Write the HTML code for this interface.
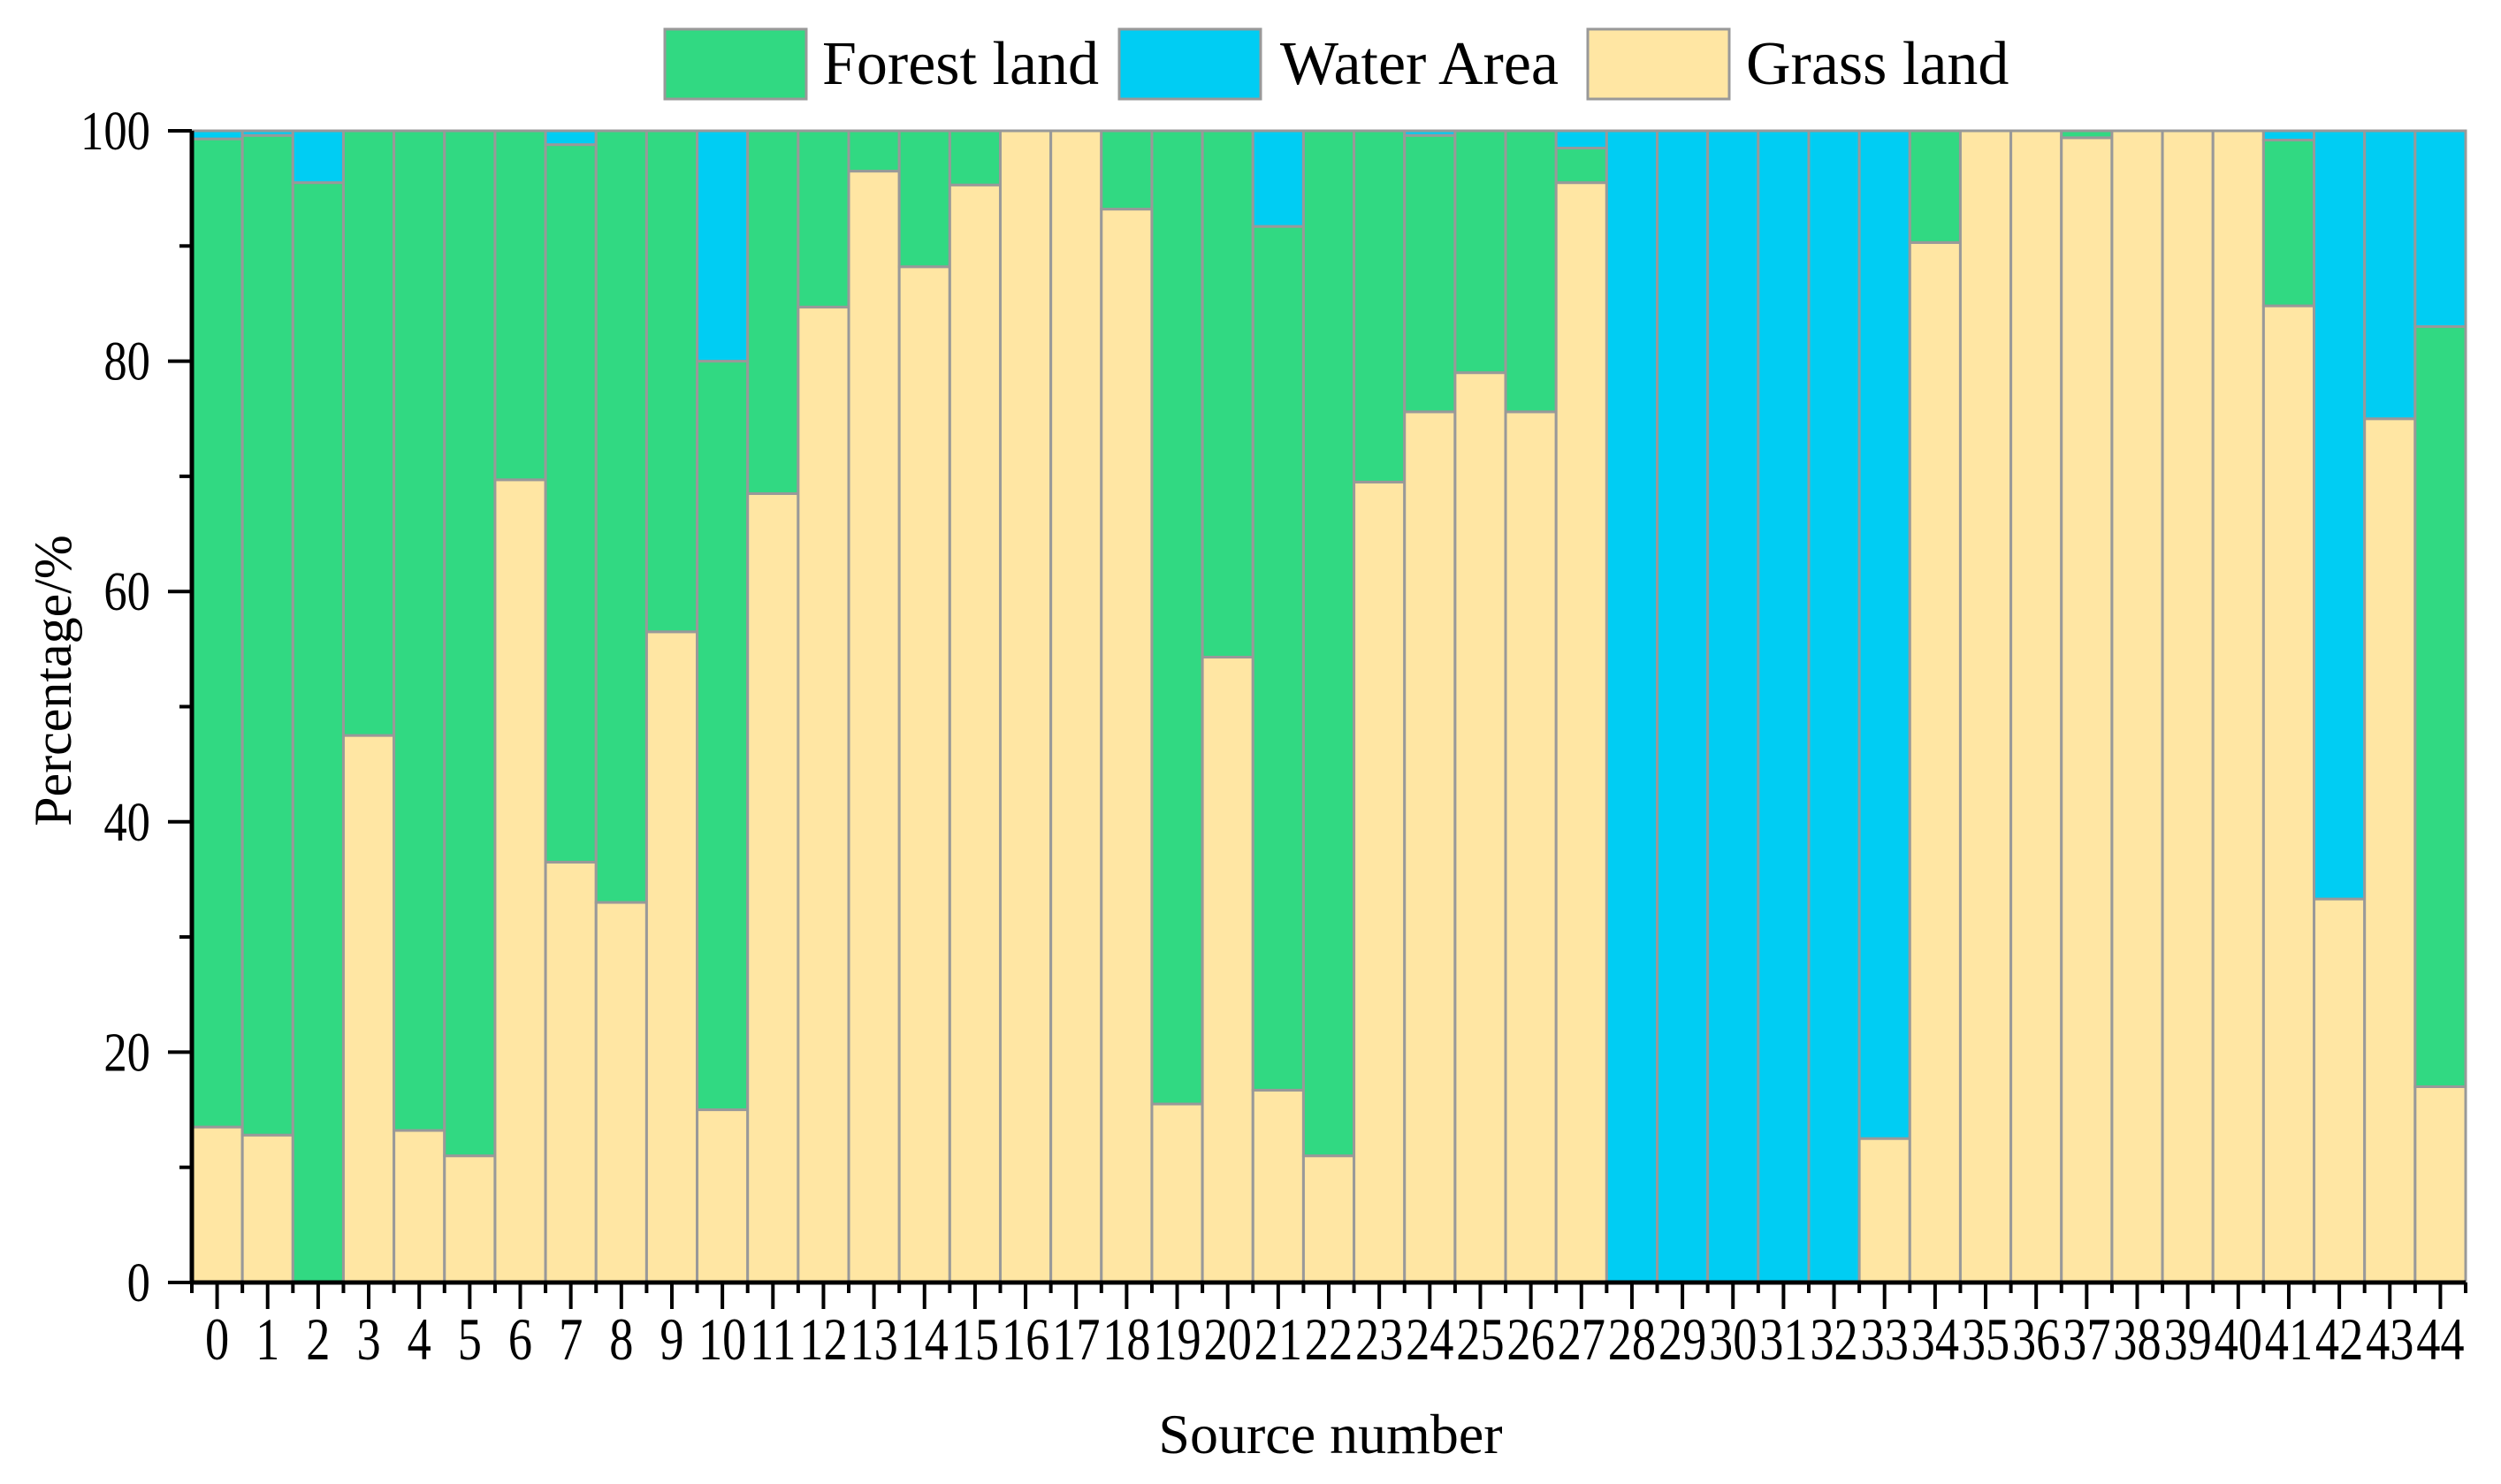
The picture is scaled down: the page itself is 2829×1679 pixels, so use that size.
<!DOCTYPE html>
<html><head><meta charset="utf-8"><style>
body{margin:0;background:#fff}
svg{display:block;font-family:"Liberation Serif",serif}
</style></head><body>
<svg id="chart" width="2829" height="1679" viewBox="0 0 2829 1679" xmlns="http://www.w3.org/2000/svg">
<g id="bars"></g>
<g id="axes"></g>
<g>
 <g><rect x="752" y="33" width="160" height="79" fill="#31d982" stroke="#999" stroke-width="3"/><text x="930" y="95" font-size="70">Forest land</text></g>
 <g><rect x="1266" y="33" width="160" height="79" fill="#00cdf3" stroke="#999" stroke-width="3"/><text x="1448" y="95" font-size="70">Water Area</text></g>
 <g><rect x="1796" y="33" width="160" height="79" fill="#ffe6a3" stroke="#999" stroke-width="3"/><text x="1975" y="95" font-size="70">Grass land</text></g>
</g>
<text transform="translate(80,770) rotate(-90)" text-anchor="middle" font-size="60">Percentage/%</text>
<text x="1505" y="1644" text-anchor="middle" font-size="64">Source number</text>
</svg>
<script>
const categories=["0","1","2","3","4","5","6","7","8","9","10","11","12","13","14","15","16","17","18","19","20","21","22","23","24","25","26","27","28","29","30","31","32","33","34","35","36","37","38","39","40","41","42","43","44"];
const grass=[13.5,12.8,0,47.5,13.2,11,69.7,36.5,33,56.5,15,68.5,84.7,96.5,88.2,95.3,100,100,93.2,15.5,54.3,16.7,11,69.5,75.6,79,75.6,95.5,0,0,0,0,0,12.5,90.3,100,100,99.4,100,100,100,84.8,33.3,75,17];
const forest=[85.8,86.8,95.5,52.5,86.8,89,30.3,62.3,67,43.5,65,31.5,15.3,3.5,11.8,4.7,0,0,6.8,84.5,45.7,75,89,30.5,24,21,24.4,3,0,0,0,0,0,0,9.7,0,0,0.6,0,0,0,14.4,0,0,66];
const water=[0.7,0.4,4.5,0,0,0,0,1.2,0,0,20,0,0,0,0,0,0,0,0,0,0,8.3,0,0,0.4,0,0,1.5,100,100,100,100,100,87.5,0,0,0,0,0,0,0,0.8,66.7,25,17];
const yTicks=[0,20,40,60,80,100];
const X0=217,X1=2789,Y0=1451,Y1=148;
const bw=(X1-X0)/categories.length;
const xs=i=>X0+i*bw;
const ys=v=>Y0-(v/100)*(Y0-Y1);
const NS="http://www.w3.org/2000/svg";
function mk(tag,attrs,parent){const e=document.createElementNS(NS,tag);for(const k in attrs)e.setAttribute(k,attrs[k]);parent.appendChild(e);return e;}
const bars=document.getElementById('bars'),axes=document.getElementById('axes');
const series=[[grass,'#ffe6a3','grass'],[forest,'#31d982','forest'],[water,'#00cdf3','water']];
categories.forEach((c,i)=>{
  let base=0;
  series.forEach(([arr,col,nm])=>{
    const v=arr[i];
    if(v>0){
      const r=mk('rect',{x:xs(i),y:ys(base+v),width:bw,height:ys(base)-ys(base+v),fill:col,stroke:'#999','stroke-width':3},bars);
      
      
    }
    base+=v;
  });
  const t=mk('text',{x:0,y:0,'font-size':68,'text-anchor':'middle',transform:`translate(${xs(i)+bw/2},1538) scale(0.8,1)`},axes);
  t.textContent=c;
  
  
  mk('line',{x1:xs(i)+bw/2,x2:xs(i)+bw/2,y1:Y0,y2:1481,stroke:'#000','stroke-width':4},axes);
  mk('line',{x1:xs(i),x2:xs(i),y1:Y0,y2:1463,stroke:'#000','stroke-width':4},axes);
});
mk('line',{x1:X1,x2:X1,y1:Y0,y2:1463,stroke:'#000','stroke-width':4},axes);
yTicks.forEach(v=>{
  mk('line',{x1:X0,x2:190,y1:ys(v),y2:ys(v),stroke:'#000','stroke-width':4},axes);
  if(v<100) mk('line',{x1:X0,x2:203,y1:ys(v+10),y2:ys(v+10),stroke:'#000','stroke-width':4},axes);
  const t=mk('text',{x:0,y:0,'font-size':62,'text-anchor':'end',transform:`translate(170,${ys(v)+21}) scale(0.85,1)`},axes);
  t.textContent=v;
  
  
});
mk('line',{x1:X0,x2:X0,y1:Y1,y2:Y0+2,stroke:'#000','stroke-width':5},axes);
mk('line',{x1:X0-2,x2:X1,y1:Y0,y2:Y0,stroke:'#000','stroke-width':5},axes);
</script>
</body></html>
